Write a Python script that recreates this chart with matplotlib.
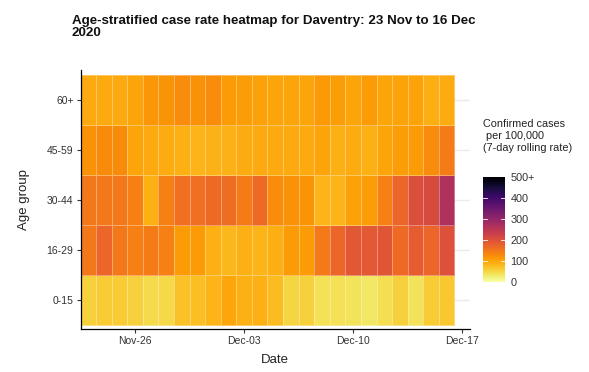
import numpy as np
import pandas as pd
import matplotlib
matplotlib.use("Agg")
import matplotlib.pyplot as plt
import matplotlib.dates as mdates

plt.rcParams['font.family'] = ['Liberation Sans', 'DejaVu Sans']

age_groups = ["0-15", "16-29", "30-44", "45-59", "60+"]
dates = pd.date_range("2020-11-23", "2020-12-16", freq="D")

rate_0_15 = [55, 62, 62, 55, 45, 48, 72, 75, 85, 98, 88, 88,
             78, 52, 55, 40, 40, 38, 32, 42, 55, 38, 62, 65]
rate_16_29 = [150, 170, 150, 140, 145, 140, 110, 110, 88, 82, 88, 85,
              90, 110, 110, 148, 170, 190, 188, 195, 165, 185, 170, 200]
rate_30_44 = [150, 150, 150, 140, 88, 140, 160, 160, 165, 163, 145, 165,
              125, 120, 118, 85, 85, 105, 108, 140, 170, 205, 210, 265]
rate_45_59 = [120, 128, 128, 100, 95, 92, 88, 85, 87, 87, 92, 95,
              95, 95, 95, 100, 88, 92, 88, 100, 108, 110, 125, 145]
rate_60p = [95, 95, 95, 100, 115, 118, 125, 120, 125, 110, 108, 105,
            100, 100, 100, 112, 108, 100, 110, 100, 102, 102, 90, 92]

Z = np.array([rate_0_15, rate_16_29, rate_30_44, rate_45_59, rate_60p], dtype=float)

fig = plt.figure(figsize=(5.89, 3.72), dpi=100)
ax = fig.add_axes([80.5/589, 1 - 329/372, (470 - 80.5)/589, (329 - 70)/372])

dnum = mdates.date2num(dates.to_pydatetime())
x_edges = np.concatenate([dnum - 0.5, [dnum[-1] + 0.5]])
y_edges = np.arange(len(age_groups) + 1) + 0.5

mesh = ax.pcolormesh(x_edges, y_edges, Z, cmap="inferno_r", vmin=0, vmax=500,
                     edgecolors=(1, 1, 1, 0.35), linewidth=0.6, zorder=2)

ax.set_xlim(dnum[0] - 0.5, dnum[-1] + 1.5)
ax.set_ylim(0.42, 5.6)
ax.set_yticks(np.arange(1, len(age_groups) + 1))
ax.set_yticklabels(age_groups)
tick_dates = pd.to_datetime(["2020-11-26", "2020-12-03", "2020-12-10", "2020-12-17"])
ax.set_xticks(mdates.date2num(tick_dates.to_pydatetime()))
ax.xaxis.set_major_formatter(mdates.DateFormatter("%b-%d"))

ax.grid(axis="y", color="#ebebeb", linewidth=1.0, zorder=0)
ax.set_axisbelow(True)
for s in ["top", "right"]:
    ax.spines[s].set_visible(False)
for s in ["left", "bottom"]:
    ax.spines[s].set_color("black")
    ax.spines[s].set_linewidth(0.9)
ax.tick_params(axis="both", length=3, width=0.8, color="#333333",
               labelsize=7.5, labelcolor="#333333", pad=2)

ax.set_xlabel("Date", fontsize=9.5, color="#222222", labelpad=6)
ax.set_ylabel("Age group", fontsize=9.5, color="#222222", labelpad=12)

fig.text(72/589, 1 - 15/372, "Age-stratified case rate heatmap for Daventry: 23 Nov to 16 Dec\n2020",
         fontsize=9.6, fontweight="bold", ha="left", va="top", linespacing=0.95, color="#111111")

cax = fig.add_axes([483/589, 1 - 282/372, 22/589, 105/372])
cb = fig.colorbar(mesh, cax=cax)
cb.outline.set_visible(False)
cb.set_ticks([0, 100, 200, 300, 400, 500])
cb.set_ticklabels(["0", "100", "200", "300", "400", "500+"])
cax.tick_params(length=0, labelsize=7.8, labelcolor="#333333", pad=4)
for v in [100, 200, 300, 400]:
    cax.plot([0, 0.2], [v, v], color="white", lw=0.6, transform=cax.get_yaxis_transform())
    cax.plot([0.8, 1.0], [v, v], color="white", lw=0.6, transform=cax.get_yaxis_transform())

fig.text(483/589, 1 - 119/372, "Confirmed cases\n per 100,000\n(7-day rolling rate)",
         fontsize=7.8, ha="left", va="top", color="#222222", linespacing=1.25)

fig.savefig("out.png", dpi=100)
